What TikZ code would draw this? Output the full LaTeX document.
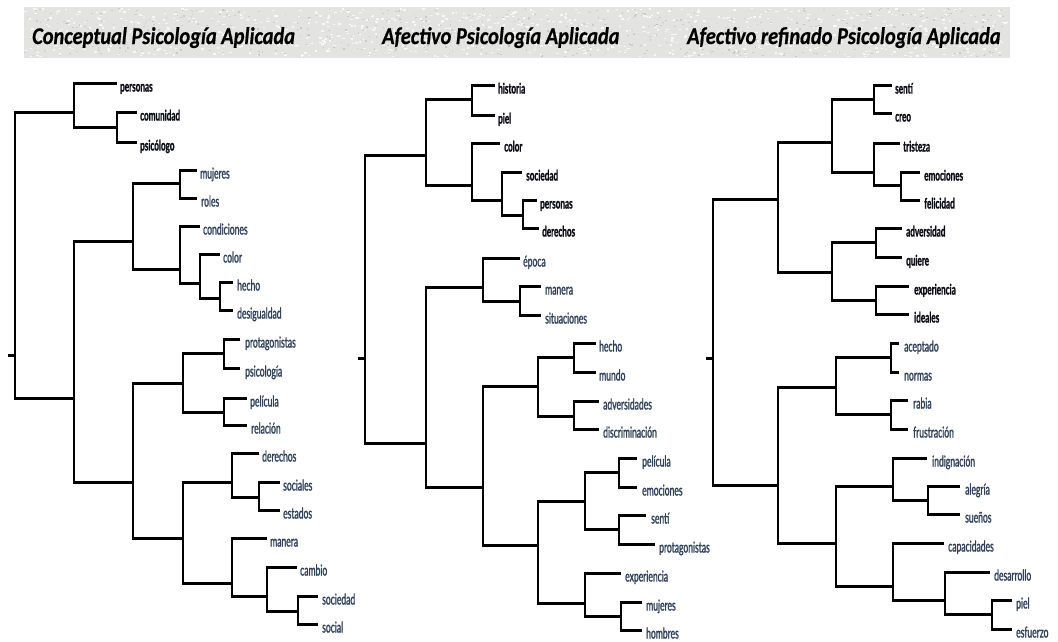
\documentclass[tikz,border=0pt]{standalone}
\usepackage{fontspec}
\newfontfamily\lblf[FakeStretch=0.57,FakeBold=1.4]{Lato}
\newfontfamily\lbdf[FakeStretch=0.56,FakeBold=1.2]{Lato}
\newfontfamily\ttlf[FakeStretch=0.85,FakeBold=0.6]{Carlito}
\definecolor{lblue}{HTML}{2E405A}
\definecolor{ldark}{HTML}{0C0C16}
\definecolor{band}{HTML}{E3E3E1}
\tikzset{
  vl/.style={line width=1.8pt,black},
  hl/.style={line width=3pt,black},
  lab/.style={anchor=base west,inner sep=0pt,yshift=-8.5pt,text=lblue,font=\lblf\fontsize{15}{17}\selectfont},
  labd/.style={text=ldark,font=\lbdf\bfseries\fontsize{14.5}{17}\selectfont},
  ttl/.style={anchor=base west,inner sep=0pt,text=black,font=\ttlf\bfseries\itshape\fontsize{24}{28}\selectfont}
}
\newcommand\elb[2]{\draw[vl] (#1) -- (#1 |- #2); \draw[hl] ([xshift=-0.9pt]#1 |- #2) -- (#2);}
\newcommand\lf[6][]{\coordinate (#2) at (#3,#4); \node[lab,#1] (#2t) at (#5,#4) {#6};}
\begin{document}
\begin{tikzpicture}[x=1pt,y=-1pt]
\useasboundingbox (0,0) rectangle (1058,641);
% title band
\fill[band] (24,7) rectangle (1010,58);
\pgfmathsetseed{11}
\foreach \i in {1,...,900}{
  \pgfmathsetmacro\rx{24+rnd*984}
  \pgfmathsetmacro\ry{8+rnd*48}
  \fill[white,opacity=0.75] (\rx,\ry) rectangle ++(2.4,1.4);
}
\foreach \i in {1,...,600}{
  \pgfmathsetmacro\rx{24+rnd*984}
  \pgfmathsetmacro\ry{8+rnd*48}
  \fill[gray!60,opacity=0.5] (\rx,\ry) rectangle ++(1.6,1.2);
}
\node[ttl] (title1) at (32,44) {Conceptual Psicología Aplicada};
\node[ttl] (title2) at (382,44) {Afectivo Psicología Aplicada};
\node[ttl] (title3) at (687,44) {Afectivo refinado Psicología Aplicada};

% ================= Panel 1 =================
\coordinate (R1) at (15,355); \coordinate (R1s) at (8,355);
\coordinate (A) at (74,112); \coordinate (B) at (74,398);
\coordinate (A2) at (117,127);
\coordinate (B1) at (133,241); \coordinate (B2) at (133,482);
\coordinate (C) at (180,183); \coordinate (D) at (180,269);
\coordinate (E) at (200,283); \coordinate (F) at (220,298);
\coordinate (G) at (183,383); \coordinate (H) at (183,538);
\coordinate (G1) at (224,353); \coordinate (G2) at (224,412);
\coordinate (I) at (232,482); \coordinate (I2) at (259,497);
\coordinate (J) at (232,583); \coordinate (J2) at (267,596); \coordinate (J3) at (298,611);
\lf[labd]{a1}{117}{83}{120}{personas}
\lf[labd]{a2}{137}{112}{140}{comunidad}
\lf[labd]{a3}{137}{142}{140}{psicólogo}
\lf{a4}{197}{170}{200}{mujeres}
\lf{a5}{197}{198}{201}{roles}
\lf{a6}{200}{226}{203}{condiciones}
\lf{a7}{220}{254}{223}{color}
\lf{a8}{233}{282}{237}{hecho}
\lf{a9}{233}{310}{237}{desigualdad}
\lf{a10}{240}{339}{245}{protagonistas}
\lf{a11}{240}{368}{245}{psicología}
\lf{a12}{247}{398}{250}{película}
\lf{a13}{247}{425}{251}{relación}
\lf{a14}{259}{453}{262}{derechos}
\lf{a15}{280}{482}{283}{sociales}
\lf{a16}{280}{510}{283}{estados}
\lf{a17}{267}{538}{270}{manera}
\lf{a18}{297}{567}{300}{cambio}
\lf{a19}{318}{596}{322}{sociedad}
\lf{a20}{318}{624}{322}{social}
\draw[hl] (R1s) -- (R1);
\elb{R1}{A}\elb{R1}{B}
\elb{A}{a1}\elb{A}{A2}\elb{A2}{a2}\elb{A2}{a3}
\elb{B}{B1}\elb{B}{B2}
\elb{B1}{C}\elb{B1}{D}
\elb{C}{a4}\elb{C}{a5}
\elb{D}{a6}\elb{D}{E}
\elb{E}{a7}\elb{E}{F}
\elb{F}{a8}\elb{F}{a9}
\elb{B2}{G}\elb{B2}{H}
\elb{G}{G1}\elb{G}{G2}
\elb{G1}{a10}\elb{G1}{a11}
\elb{G2}{a12}\elb{G2}{a13}
\elb{H}{I}\elb{H}{J}
\elb{I}{a14}\elb{I}{I2}
\elb{I2}{a15}\elb{I2}{a16}
\elb{J}{a17}\elb{J}{J2}
\elb{J2}{a18}\elb{J2}{J3}
\elb{J3}{a19}\elb{J3}{a20}

% ================= Panel 2 =================
\coordinate (R2) at (365,358); \coordinate (R2s) at (358,358);
\coordinate (K) at (426,155); \coordinate (L) at (426,443);
\coordinate (K1) at (472,99); \coordinate (K2) at (472,185);
\coordinate (K3) at (502,200); \coordinate (K4) at (523,215);
\coordinate (M) at (483,287); \coordinate (M2) at (520,301);
\coordinate (N) at (483,487);
\coordinate (O) at (538,386); \coordinate (O1) at (574,357); \coordinate (O2) at (574,416);
\coordinate (P) at (538,545);
\coordinate (Q) at (585,501); \coordinate (Q1) at (619,472); \coordinate (Q2) at (619,529);
\coordinate (S) at (585,603); \coordinate (S2) at (621,616);
\lf[labd]{b1}{495}{85}{498}{historia}
\lf[labd]{b2}{495}{115}{498}{piel}
\lf[labd]{b3}{500}{143}{504}{color}
\lf[labd]{b4}{522}{172}{526}{sociedad}
\lf[labd]{b5}{537}{200}{540}{personas}
\lf[labd]{b6}{539}{228}{542}{derechos}
\lf{b7}{520}{258}{523}{época}
\lf{b8}{541}{286}{545}{manera}
\lf{b9}{541}{315}{545}{situaciones}
\lf{b10}{596}{343}{599}{hecho}
\lf{b11}{596}{372}{599}{mundo}
\lf{b12}{599}{401}{603}{adversidades}
\lf{b13}{599}{429}{603}{discriminación}
\lf{b14}{637}{458}{642}{película}
\lf{b15}{637}{487}{642}{emociones}
\lf{b16}{646}{515}{651}{sentí}
\lf{b17}{655}{544}{659}{protagonistas}
\lf{b18}{621}{573}{625}{experiencia}
\lf{b19}{642}{602}{646}{mujeres}
\lf{b20}{642}{630}{646}{hombres}
\draw[hl] (R2s) -- (R2);
\elb{R2}{K}\elb{R2}{L}
\elb{K}{K1}\elb{K}{K2}
\elb{K1}{b1}\elb{K1}{b2}
\elb{K2}{b3}\elb{K2}{K3}
\elb{K3}{b4}\elb{K3}{K4}
\elb{K4}{b5}\elb{K4}{b6}
\elb{L}{M}\elb{L}{N}
\elb{M}{b7}\elb{M}{M2}
\elb{M2}{b8}\elb{M2}{b9}
\elb{N}{O}\elb{N}{P}
\elb{O}{O1}\elb{O}{O2}
\elb{O1}{b10}\elb{O1}{b11}
\elb{O2}{b12}\elb{O2}{b13}
\elb{P}{Q}\elb{P}{S}
\elb{Q}{Q1}\elb{Q}{Q2}
\elb{Q1}{b14}\elb{Q1}{b15}
\elb{Q2}{b16}\elb{Q2}{b17}
\elb{S}{b18}\elb{S}{S2}
\elb{S2}{b19}\elb{S2}{b20}

% ================= Panel 3 =================
\coordinate (R3) at (713,358); \coordinate (R3s) at (706,358);
\coordinate (U) at (778,199); \coordinate (W) at (778,485);
\coordinate (T) at (832,142); \coordinate (V) at (832,272);
\coordinate (T1) at (874,99); \coordinate (T2) at (874,172); \coordinate (T3) at (901,185);
\coordinate (V1) at (876,242); \coordinate (V2) at (876,300);
\coordinate (W1) at (836,387); \coordinate (W1a) at (891,357); \coordinate (W1b) at (891,414);
\coordinate (X) at (836,543); \coordinate (X1) at (893,486); \coordinate (X2) at (928,500);
\coordinate (Y) at (893,586); \coordinate (Y2) at (945,600); \coordinate (Y3) at (992,614);
\lf[labd]{c1}{892}{85}{895}{sentí}
\lf[labd]{c2}{892}{113}{895}{creo}
\lf[labd]{c3}{900}{143}{903}{tristeza}
\lf[labd]{c4}{920}{172}{924}{emociones}
\lf[labd]{c5}{920}{200}{924}{felicidad}
\lf[labd]{c6}{902}{228}{906}{adversidad}
\lf[labd]{c7}{902}{257}{906}{quiere}
\lf[labd]{c8}{909}{286}{914}{experiencia}
\lf[labd]{c9}{909}{314}{914}{ideales}
\lf{c10}{899}{343}{904}{aceptado}
\lf{c11}{899}{372}{904}{normas}
\lf{c12}{908}{400}{913}{rabia}
\lf{c13}{908}{429}{913}{frustración}
\lf{c14}{927}{458}{932}{indignación}
\lf{c15}{960}{486}{965}{alegría}
\lf{c16}{960}{514}{965}{sueños}
\lf{c17}{944}{543}{948}{capacidades}
\lf{c18}{990}{572}{994}{desarrollo}
\lf{c19}{1012}{600}{1016}{piel}
\lf{c20}{1012}{629}{1016}{esfuerzo}
\draw[hl] (R3s) -- (R3);
\elb{R3}{U}\elb{R3}{W}
\elb{U}{T}\elb{U}{V}
\elb{T}{T1}\elb{T}{T2}
\elb{T1}{c1}\elb{T1}{c2}
\elb{T2}{c3}\elb{T2}{T3}
\elb{T3}{c4}\elb{T3}{c5}
\elb{V}{V1}\elb{V}{V2}
\elb{V1}{c6}\elb{V1}{c7}
\elb{V2}{c8}\elb{V2}{c9}
\elb{W}{W1}\elb{W}{X}
\elb{W1}{W1a}\elb{W1}{W1b}
\elb{W1a}{c10}\elb{W1a}{c11}
\elb{W1b}{c12}\elb{W1b}{c13}
\elb{X}{X1}\elb{X}{Y}
\elb{X1}{c14}\elb{X1}{X2}
\elb{X2}{c15}\elb{X2}{c16}
\elb{Y}{c17}\elb{Y}{Y2}
\elb{Y2}{c18}\elb{Y2}{Y3}
\elb{Y3}{c19}\elb{Y3}{c20}
\end{tikzpicture}
\end{document}
